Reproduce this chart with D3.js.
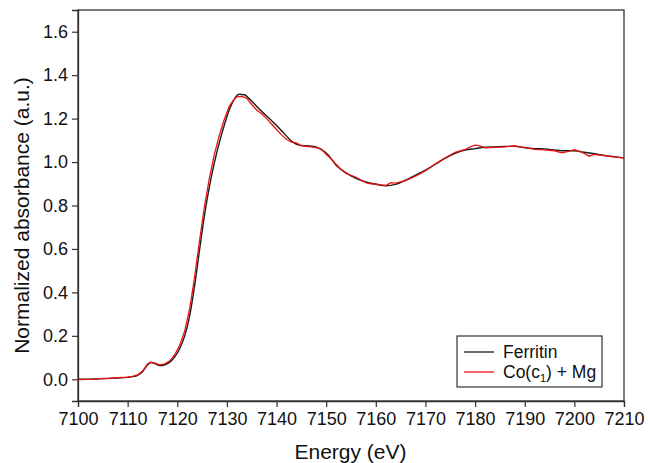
<!DOCTYPE html>
<html>
<head>
<meta charset="utf-8">
<script src="https://cdn.jsdelivr.net/npm/d3@7"></script>
<style>
  html, body { margin: 0; padding: 0; background: #fff; }
  svg { display: block; font-family: "Liberation Sans", Arial, Helvetica, sans-serif; }
</style>
</head>
<body>
<svg id="chart" width="648" height="463"></svg>
<script>
// ---- data ----
const xTicks = [7100, 7110, 7120, 7130, 7140, 7150, 7160, 7170, 7180, 7190, 7200, 7210];
const yTicks = [0.0, 0.2, 0.4, 0.6, 0.8, 1.0, 1.2, 1.4, 1.6];
const seriesNames = ["Ferritin", "Co(c1) + Mg"];

const ferritinE = [7100,7102,7104,7106,7108,7110,7111,7112,7113,7114,7114.7,7115.5,7116.5,7117.5,7118.5,7119.5,7120.5,7121.5,7122.5,7123.5,7124.5,7125.5,7126.5,7127.5,7128.5,7129.5,7130.5,7131.5,7132.5,7133.5,7134.5,7135.5,7136.5,7138,7140,7141.5,7143,7144.5,7146,7147.5,7149,7150.5,7152,7154,7156,7158,7160,7162,7164,7166,7168,7170,7172,7174,7176,7178,7180,7182,7184,7186,7188,7190,7192,7194,7196,7198,7200,7202,7204,7206,7208,7210];
const ferritinA = [0.000,0.000,0.002,0.004,0.006,0.009,0.012,0.018,0.035,0.066,0.077,0.072,0.063,0.067,0.079,0.103,0.142,0.200,0.292,0.432,0.598,0.757,0.890,1.000,1.092,1.172,1.242,1.290,1.312,1.310,1.292,1.268,1.244,1.212,1.168,1.132,1.097,1.078,1.075,1.072,1.058,1.030,0.985,0.950,0.925,0.908,0.898,0.891,0.897,0.917,0.940,0.963,0.990,1.018,1.040,1.055,1.062,1.068,1.070,1.072,1.072,1.066,1.062,1.060,1.056,1.052,1.052,1.045,1.038,1.030,1.025,1.019];

const cocE = [7100,7102,7104,7105,7106,7108,7110,7111,7112,7113,7114,7114.6,7115.5,7116.5,7117.5,7118.5,7119.5,7120.5,7121.5,7122.5,7123.5,7124.5,7125.5,7126.5,7127.5,7128.5,7129.5,7130.5,7131.5,7132,7133,7134,7135,7136,7137,7138,7139,7140,7141,7142,7143,7144,7145,7146,7147,7148,7149,7150,7151,7152,7153,7154,7156,7158,7159,7160,7161,7162,7163,7164,7166,7168,7170,7172,7174,7176,7178,7179,7180,7181,7182,7184,7186,7188,7189,7190,7192,7194,7196,7197.5,7199,7200,7201.5,7203,7204,7206,7208,7210];
const cocA = [-0.002,0.000,0.001,0.004,0.003,0.007,0.010,0.013,0.020,0.038,0.070,0.079,0.074,0.066,0.071,0.085,0.113,0.157,0.222,0.325,0.472,0.640,0.800,0.930,1.038,1.125,1.198,1.258,1.290,1.300,1.302,1.293,1.265,1.240,1.222,1.200,1.175,1.150,1.125,1.105,1.092,1.088,1.075,1.072,1.070,1.066,1.060,1.036,1.014,0.990,0.966,0.948,0.930,0.905,0.900,0.899,0.895,0.892,0.905,0.903,0.915,0.935,0.960,0.992,1.020,1.045,1.058,1.070,1.078,1.075,1.065,1.068,1.070,1.075,1.070,1.068,1.058,1.056,1.052,1.042,1.050,1.057,1.045,1.027,1.035,1.030,1.024,1.018];

const ferritin = ferritinE.map((e, i) => ({ e, a: ferritinA[i] }));
const coc = cocE.map((e, i) => ({ e, a: cocA[i] }));

// ---- layout ----
const svg = d3.select("#chart");
const mLeft = 78, mRight = 624, mTop = 10, mBottom = 401;

const x = d3.scaleLinear().domain([7100, 7210]).range([mLeft, mRight]);
const y = d3.scaleLinear().domain([-0.1, 1.7]).range([mBottom, mTop]);

// frame
svg.append("rect")
  .attr("x", mLeft).attr("y", mTop)
  .attr("width", mRight - mLeft).attr("height", mBottom - mTop)
  .attr("fill", "none").attr("stroke", "#333").attr("stroke-width", 1.3);

// axes
const xAxis = svg.append("g")
  .attr("transform", `translate(0,${mBottom})`)
  .call(d3.axisBottom(x).tickValues(xTicks).tickFormat(d3.format("d")).tickSizeOuter(0).tickSize(6).tickPadding(5));
const yAxis = svg.append("g")
  .attr("transform", `translate(${mLeft},0)`)
  .call(d3.axisLeft(y).tickValues(yTicks).tickFormat(d3.format(".1f")).tickSizeOuter(0).tickSize(6).tickPadding(4));

[xAxis, yAxis].forEach(g => {
  g.select(".domain").attr("stroke", "#333").attr("stroke-width", 1.3);
  g.selectAll(".tick line").attr("stroke", "#333").attr("stroke-width", 1.2);
  g.selectAll(".tick text")
    .attr("fill", "#111")
    .style("font-size", "18px")
    .style("font-family", "'Liberation Sans', Arial, sans-serif");
});

// axis titles
svg.append("text")
  .attr("x", (mLeft + mRight) / 2 - 0.5).attr("y", 459)
  .attr("text-anchor", "middle")
  .attr("fill", "#111")
  .style("font-size", "21px")
  .text("Energy (eV)");

svg.append("text")
  .attr("transform", `translate(29,${(mTop + mBottom) / 2 + 10}) rotate(-90)`)
  .attr("text-anchor", "middle")
  .attr("fill", "#111")
  .style("font-size", "21px")
  .text("Normalized absorbance (a.u.)");

// lines
const line = d3.line().x(d => x(d.e)).y(d => y(d.a)).curve(d3.curveMonotoneX);

svg.append("path").datum(ferritin)
  .attr("d", line).attr("fill", "none")
  .attr("stroke", "#1a1a1a").attr("stroke-width", 1.4);

svg.append("path").datum(coc)
  .attr("d", d3.line().x(d => x(d.e)).y(d => y(d.a)).curve(d3.curveLinear))
  .attr("fill", "none")
  .attr("stroke", "#ee1111").attr("stroke-width", 1.3);

// legend
const lg = svg.append("g");
lg.append("rect")
  .attr("x", 457).attr("y", 336).attr("width", 145).attr("height", 51)
  .attr("fill", "#fff").attr("stroke", "#333").attr("stroke-width", 1.2);

const legendColors = ["#1a1a1a", "#ee1111"];
seriesNames.forEach((name, i) => {
  const yy = 352 + i * 20;
  lg.append("line")
    .attr("x1", 464).attr("x2", 494).attr("y1", yy).attr("y2", yy)
    .attr("stroke", legendColors[i]).attr("stroke-width", 1.3);
});
const t1 = lg.append("text").attr("x", 503).attr("y", 358).attr("fill", "#111").style("font-size", "17.5px").text("Ferritin");
const t2 = lg.append("text").attr("x", 503).attr("y", 378).attr("fill", "#111").style("font-size", "17.5px");
t2.append("tspan").text("Co(c");
t2.append("tspan").attr("dy", 4).style("font-size", "11px").text("1");
t2.append("tspan").attr("dy", -4).text(") + Mg");
</script>
</body>
</html>
